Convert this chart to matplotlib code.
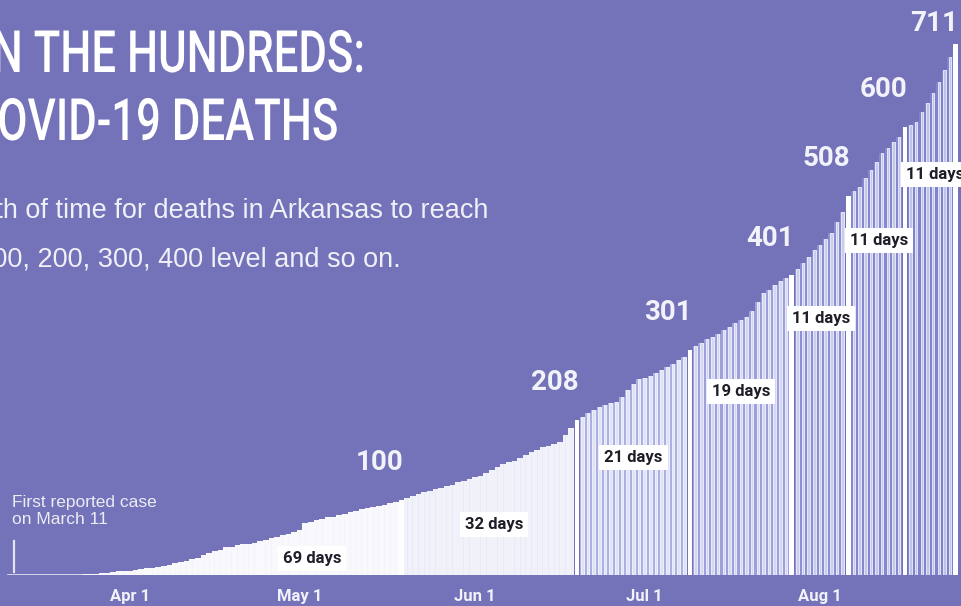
import datetime as dt
import matplotlib
matplotlib.use('Agg')
import matplotlib.pyplot as plt
from matplotlib.patheffects import AbstractPathEffect
from matplotlib.transforms import Affine2D

# cumulative Arkansas COVID-19 deaths, one value per day from March 11
START = dt.date(2020, 3, 11)
deaths = [
    0, 0, 0, 0, 0, 0, 0, 0, 0, 0, 0, 0, 0,
    1, 2, 2, 3, 3, 4, 5, 5,
    6, 7, 8, 9, 10, 11, 12, 13, 16, 18, 19, 21, 23, 27, 30, 32, 34, 37, 38, 40,
    41, 42, 43, 45, 47, 49, 51, 53, 55, 57,
    60, 69, 71, 73, 75, 77, 78, 80, 82, 84, 86, 88, 90, 91, 93, 94, 96, 98,
    100, 103, 106, 108, 111, 113, 115, 116, 119, 121, 124, 126, 128, 131, 133,
    137, 141, 144, 148, 151, 153, 156, 160, 164, 168, 171, 173, 176, 178, 188, 197,
    208, 212, 217, 221, 225, 228, 230, 232, 238, 248, 256, 262, 264, 266, 270,
    274, 278, 282, 288, 292,
    301, 307, 311, 316, 319, 323, 328, 332, 337, 341, 346, 353, 365, 377, 382,
    388, 393, 397,
    401, 410, 418, 426, 435, 442, 450, 458, 472, 486,
    508, 514, 520, 531, 542, 553, 565, 572, 580, 587,
    600, 603, 607, 620, 632, 645, 660, 676, 693,
    711,
]
milestones = [100, 208, 301, 401, 508, 600, 711]
span_labels = ['69 days', '32 days', '21 days', '19 days', '11 days', '11 days', '11 days']
tick_dates = [dt.date(2020, 4, 1), dt.date(2020, 5, 1), dt.date(2020, 6, 1),
              dt.date(2020, 7, 1), dt.date(2020, 8, 1)]
tick_labels = ['Apr 1', 'May 1', 'Jun 1', 'Jul 1', 'Aug 1']

BG = '#7472b8'
LIGHT = '#f2f2fa'
# (colour between stripes, stripe colour) for each stretch
seg_colors = [
    ('#f3f3f9', '#f9f9fd'),
    ('#e8eaf6', '#f0f1f9'),
    ('#adb0e2', '#e0e2f6'),
    ('#9da0dc', '#d4d6f2'),
    ('#8c8fd3', '#cbcdef'),
    ('#8588d0', '#c5c7ec'),
    ('#7f82cd', '#c0c2ea'),
]


class Squeeze(AbstractPathEffect):
    """narrow the glyphs horizontally, keeping the right end in place"""
    def __init__(self, sx):
        super().__init__()
        self.sx = sx

    def draw_path(self, renderer, gc, tpath, affine, rgbFace=None):
        x0 = affine.transform(tpath.vertices)[:, 0].max()
        aff = affine + Affine2D().translate(-x0, 0).scale(self.sx, 1).translate(x0, 0)
        renderer.draw_path(gc, tpath, aff, rgbFace)


days = list(range(len(deaths)))
mdays = [deaths.index(m) for m in milestones]

fig = plt.figure(figsize=(9.61, 6.06), dpi=100)
fig.patch.set_facecolor(BG)
ax = fig.add_axes([0, 31 / 606, 1, 575 / 606])
ax.set_facecolor('none')
for s in ax.spines.values():
    s.set_visible(False)

prev = -1
for i, md in enumerate(mdays):
    seg_d = [d for d in days if prev < d < md]
    seg_v = [deaths[d] for d in seg_d]
    gap_c, stripe_c = seg_colors[i]
    if i < 2:
        ax.bar(seg_d, seg_v, width=1.0, color=stripe_c, linewidth=0)
        ax.bar(seg_d, seg_v, width=0.15, color=gap_c, linewidth=0)
    else:
        ax.bar(seg_d, seg_v, width=1.0, color=gap_c, linewidth=0)
        ax.bar(seg_d, seg_v, width=0.45, color=stripe_c, edgecolor='white', linewidth=0.5)
    ax.bar(md, deaths[md], width=0.8, color='white', linewidth=0)
    prev = md

ax.plot([-0.5, 12.5], [0, 0], color='#e6e6f2', lw=1.2)

# milestone numbers
for md, m in zip(mdays, milestones):
    ax.text(md + 0.4, min(m + 50, 738), str(m), ha='right', va='center',
            fontsize=20, fontweight='bold', color=LIGHT, family=['Roboto', 'DejaVu Sans'])

# day count boxes
box_pos = [(53.2, 22), (85.4, 67), (110.0, 157), (129.0, 245),
           (143.2, 344), (153.4, 448), (163.4, 536)]
for (bx, by), lab in zip(box_pos, span_labels):
    ax.text(bx, by, lab, ha='center', va='center', fontsize=12, fontweight='bold',
            color='#1e1e28', family=['Roboto', 'DejaVu Sans'],
            bbox=dict(boxstyle='square,pad=0.3', facecolor='white', edgecolor='none'))

ax.set_xlim(-11.2 / 5.656, (961 - 11.2) / 5.656)
ax.set_ylim(0, 575 / 0.747)
ax.set_xticks([(d - START).days for d in tick_dates], tick_labels)
ax.set_yticks([])
ax.tick_params(axis='x', length=0, pad=10, labelsize=12, labelcolor=LIGHT)
for t in ax.get_xticklabels():
    t.set_fontweight('bold')
    t.set_family(['Roboto', 'DejaVu Sans'])

# first case marker
ax.plot([0.5, 0.5], [4, 45], color='#e6e6f2', lw=1.6)
fig.text(12 / 961, 1 - 511 / 606, 'First reported case\non March 11', ha='left', va='center',
         fontsize=12.5, color='#ececf6', linespacing=1.12, family=['Liberation Sans', 'DejaVu Sans'])

# title and intro, cut by the crop on the left
title_kw = dict(ha='right', va='baseline', fontsize=42, color='white', fontweight='medium',
                family=['Roboto', 'DejaVu Sans'], path_effects=[Squeeze(0.75)])
fig.text(366 / 961, 1 - 72 / 606, 'IN THE HUNDREDS:', **title_kw)
fig.text(339 / 961, 1 - 140 / 606, 'COVID-19 DEATHS', **title_kw)
fig.text(488 / 961, 1 - 218 / 606, 'Length of time for deaths in Arkansas to reach',
         ha='right', va='baseline', fontsize=19.5, color='#f0f0f8',
         family=['Liberation Sans', 'DejaVu Sans'])
fig.text(401 / 961, 1 - 267 / 606, 'the 100, 200, 300, 400 level and so on.',
         ha='right', va='baseline', fontsize=19.5, color='#f0f0f8',
         family=['Liberation Sans', 'DejaVu Sans'])

fig.savefig('out.png', dpi=100, facecolor=BG)
